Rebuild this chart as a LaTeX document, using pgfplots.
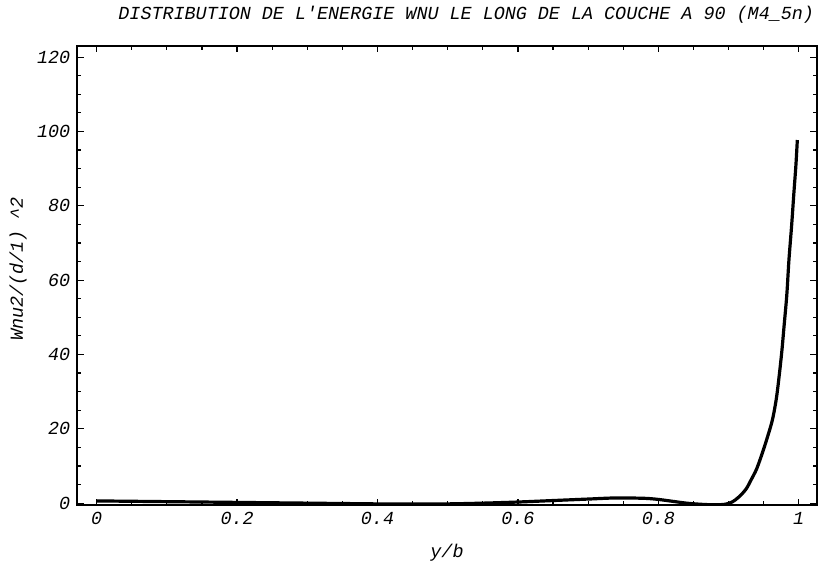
\documentclass[border=0pt]{standalone}
\usepackage{fontspec}
\setmonofont{Liberation Mono}
\usepackage{pgfplots}
\pgfplotsset{compat=1.18}
\newcommand{\plotfont}{\ttfamily\itshape\fontsize{9.2}{11}\selectfont}

\begin{document}
\begin{tikzpicture}
% page size, same proportions as the scan
\path[use as bounding box] (-38.65pt,-31.5pt) rectangle (370.85pt,252.5pt);

\begin{axis}[
    scale only axis,
    width=369.7pt,
    height=229.5pt,
    xmin=-0.0276, xmax=1.0256,
    ymin=-0.5, ymax=123,
    axis line style={line width=0.9pt},
    tick align=inside,
    xtick={0,0.2,0.4,0.6,0.8,1},
    ytick={0,20,40,60,80,100,120},
    minor x tick num=3,
    minor y tick num=3,
    major tick length=3.2pt,
    minor tick length=1.8pt,
    every tick/.style={black, line width=0.6pt},
    /pgf/number format/assume math mode=true,
    tick label style={font=\plotfont},
    title={DISTRIBUTION DE L'ENERGIE WNU LE LONG DE LA COUCHE A 90 (M4\_5n)},
    title style={at={(axis description cs:1.006,1)}, anchor=base east, yshift=7pt, font=\plotfont},
    xlabel={y/b},
    xlabel style={at={(axis description cs:0.5,0)}, anchor=center, yshift=-24pt, font=\plotfont},
    ylabel={Wnu2/(d/1)\ \textasciicircum 2},
    ylabel style={at={(axis description cs:-0.08,0.514)}, anchor=center, font=\plotfont},
]

% energy along the layer
\addplot[black, line width=1.6pt, smooth] coordinates {
(0, 0.6)
(0.05, 0.5)
(0.1, 0.4)
(0.15, 0.3)
(0.2, 0.2)
(0.25, 0.1)
(0.3, 0.0)
(0.35, -0.1)
(0.4, -0.2)
(0.45, -0.25)
(0.5, -0.2)
(0.55, 0.0)
(0.6, 0.3)
(0.65, 0.7)
(0.7, 1.1)
(0.74, 1.4)
(0.78, 1.3)
(0.8, 1.0)
(0.82, 0.5)
(0.84, 0.0)
(0.86, -0.3)
(0.88, -0.45)
(0.895, -0.3)
(0.905, 0.3)
(0.915, 1.7)
(0.925, 3.8)
(0.932, 6.2)
(0.94, 9.2)
(0.948, 13.4)
(0.955, 17.5)
(0.9625, 22.4)
(0.968, 28)
(0.972, 34.0)
(0.976, 41)
(0.979, 47.4)
(0.983, 56)
(0.986, 65.3)
(0.99, 75)
(0.993, 83.2)
(0.996, 91)
(0.998, 97.7)
};

\end{axis}
\end{tikzpicture}
\end{document}
